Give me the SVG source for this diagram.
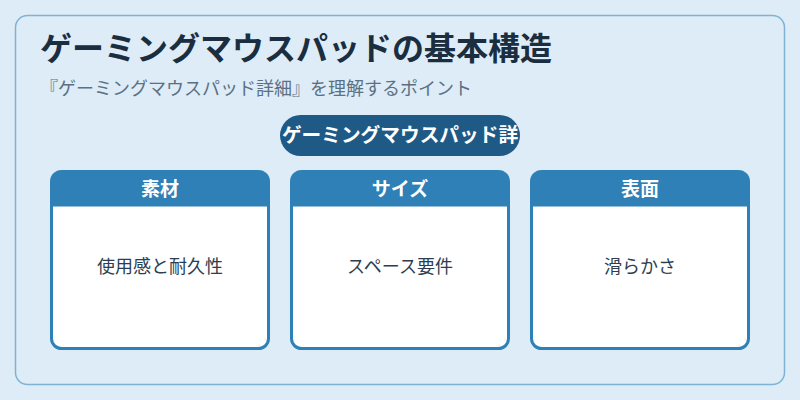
<svg xmlns="http://www.w3.org/2000/svg" width="800" height="400" viewBox="0 0 800 400">
<style>
.t{font-family:"Noto Sans CJK JP","Noto Sans",sans-serif}
.title{font-size:32px;font-weight:700;fill:#1a2e3f}
.sub{font-size:18px;fill:#5b7083}
.card{fill:#ffffff;stroke:#2e80b6;stroke-width:3}
.hdr{fill:#2e80b6}
.htx{font-size:19px;font-weight:700;fill:#ffffff;text-anchor:middle}
.btx{font-size:18px;fill:#2c3e50;text-anchor:middle}
</style>
<rect width="800" height="400" fill="#ddecf7"/>
<rect x="15.5" y="15.5" width="769" height="369" rx="12" fill="#ddecf7" stroke="#7fb2d4" stroke-width="1.5"/>
<text class="t title" x="40" y="60">ゲーミングマウスパッドの基本構造</text>
<text class="t sub" x="40" y="95">『ゲーミングマウスパッド詳細』を理解するポイント</text>
<g id="center">
<rect x="280" y="115" width="240" height="41" rx="20.5" fill="#1f5a87"/>
<text class="t" x="400" y="142" font-size="19.7" font-weight="700" fill="#ffffff" text-anchor="middle">ゲーミングマウスパッド詳</text>
</g>
<g id="connectors"></g>
<g id="node-material">
<rect class="card" x="51.5" y="171.5" width="217" height="177" rx="10"/>
<path class="hdr" d="M51.5 206.5V181.5a10 10 0 0 1 10-10h197a10 10 0 0 1 10 10V206.5z"/>
<text class="t htx" x="160" y="196">素材</text>
<text class="t btx" x="160" y="273">使用感と耐久性</text>
</g>
<g id="node-size">
<rect class="card" x="291.5" y="171.5" width="217" height="177" rx="10"/>
<path class="hdr" d="M291.5 206.5V181.5a10 10 0 0 1 10-10h197a10 10 0 0 1 10 10V206.5z"/>
<text class="t htx" x="400" y="196">サイズ</text>
<text class="t btx" x="400" y="273">スペース要件</text>
</g>
<g id="node-surface">
<rect class="card" x="531.5" y="171.5" width="217" height="177" rx="10"/>
<path class="hdr" d="M531.5 206.5V181.5a10 10 0 0 1 10-10h197a10 10 0 0 1 10 10V206.5z"/>
<text class="t htx" x="640" y="196">表面</text>
<text class="t btx" x="640" y="273">滑らかさ</text>
</g>
</svg>
